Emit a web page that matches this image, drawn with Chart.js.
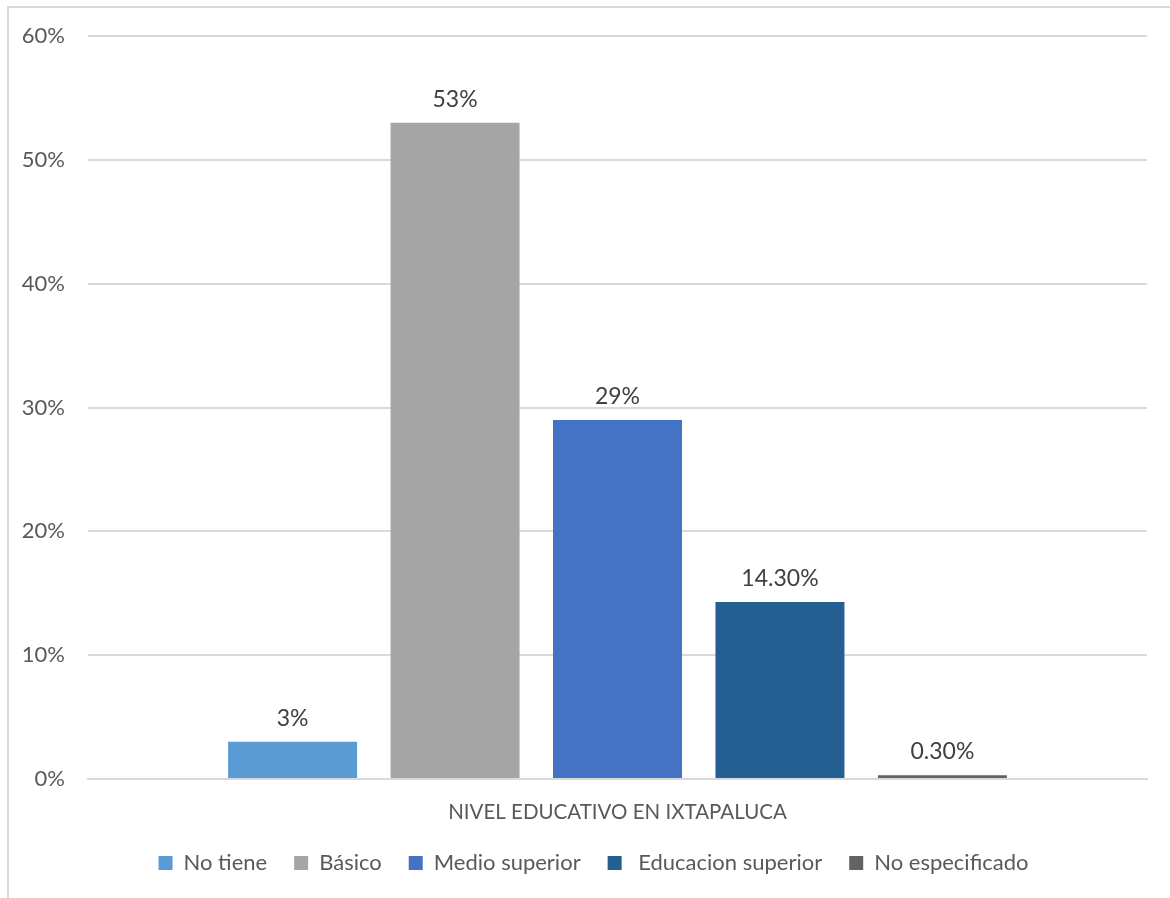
<!DOCTYPE html>
<html>
<head>
<meta charset="utf-8">
<script src="https://cdn.jsdelivr.net/npm/chart.js@4"></script>
<style>
  html, body { margin: 0; padding: 0; background: #fff; overflow: hidden; }
  #marco {
    position: absolute; left: 7px; top: 6px; width: 1300px; height: 1000px;
    border: 2px solid #d9d9d9; box-sizing: border-box;
  }
  #lienzo { position: absolute; left: 0; top: 0; width: 1170px; height: 898px; }
</style>
</head>
<body>
<div id="marco"></div>
<div id="lienzo"><canvas id="grafico"></canvas></div>
<script>
const categorias = ["NIVEL EDUCATIVO EN IXTAPALUCA"];
const series = ["No tiene", "Básico", "Medio superior", " Educacion superior", "No especificado"];
const valores = [3, 53, 29, 14.3, 0.3];
const etiquetas = ["3%", "53%", "29%", "14.30%", "0.30%"];
const colores = ["#5b9bd5", "#a5a5a5", "#4472c4", "#255e91", "#636363"];
const ticksY = [0, 10, 20, 30, 40, 50, 60];

const fuente = "Lato, 'Open Sans', sans-serif";

// etiquetas de valor encima de cada barra
const etiquetasBarras = {
  id: "etiquetasBarras",
  afterDatasetsDraw(chart) {
    const ctx = chart.ctx;
    ctx.save();
    ctx.font = "23px " + fuente;
    ctx.fillStyle = "#404040";
    ctx.textAlign = "center";
    ctx.textBaseline = "alphabetic";
    chart.data.datasets.forEach((ds, i) => {
      const meta = chart.getDatasetMeta(i);
      meta.data.forEach((barra) => {
        ctx.fillText(etiquetas[i], barra.x, barra.y - 16);
      });
    });
    ctx.restore();
  },
};

// la leyenda va un poco a la derecha del centro
const moverLeyenda = {
  id: "moverLeyenda",
  afterLayout(chart) {
    if (chart.legend) {
      chart.legend.left += 15;
      chart.legend.right += 15;
    }
  },
};

new Chart(document.getElementById("grafico"), {
  type: "bar",
  data: {
    labels: categorias,
    datasets: series.map((nombre, i) => ({
      label: nombre,
      data: [valores[i]],
      backgroundColor: colores[i],
      borderWidth: 0,
      categoryPercentage: 0.767,
      barPercentage: 0.794,
    })),
  },
  options: {
    responsive: true,
    maintainAspectRatio: false,
    animation: false,
    layout: { padding: { top: 24, right: 23, bottom: 14, left: 10 } },
    plugins: {
      tooltip: { enabled: false },
      legend: {
        position: "bottom",
        labels: {
          font: { family: fuente, size: 22 },
          color: "#595959",
          boxWidth: 14,
          boxHeight: 14,
          padding: 27,
        },
      },
    },
    scales: {
      x: {
        grid: { display: false, drawTicks: false },
        border: { color: "#d9d9d9", width: 2 },
        afterFit(scale) {
          scale.height = 46;
        },
        ticks: {
          font: { family: fuente, size: 20.5 },
          color: "#595959",
          padding: 21,
        },
      },
      y: {
        min: 0,
        max: 60,
        afterBuildTicks(scale) {
          scale.ticks = ticksY.map((v) => ({ value: v }));
        },
        afterFit(scale) {
          scale.width = 78;
        },
        grid: { color: "#d9d9d9", lineWidth: 2, drawTicks: false },
        border: { display: false },
        ticks: {
          font: { family: fuente, size: 22 },
          color: "#595959",
          padding: 23,
          callback: (v) => v + "%",
        },
      },
    },
  },
  plugins: [etiquetasBarras, moverLeyenda],
});
</script>
</body>
</html>
